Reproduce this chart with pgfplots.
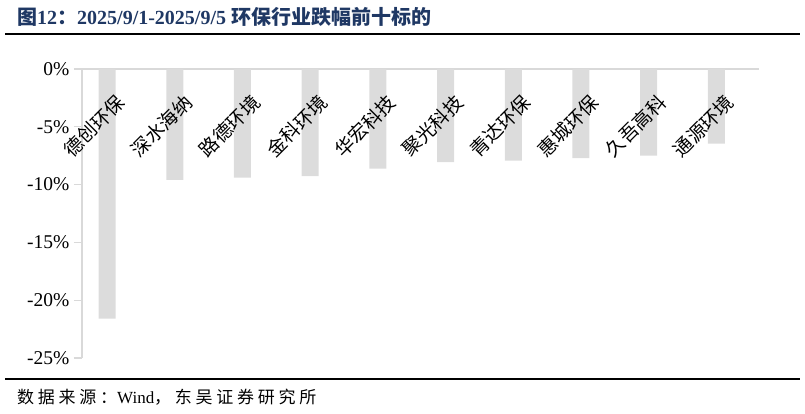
\documentclass[border=0pt]{standalone}
\usepackage{pgfplots}
\pgfplotsset{compat=1.18}
\usepackage{fontspec}
\setmainfont{Liberation Serif}
\newfontfamily\cjk{Noto Sans CJK SC}
\definecolor{bargray}{HTML}{DCDCDC}
\definecolor{axgray}{HTML}{D9D9D9}
\definecolor{titleblue}{HTML}{1F3864}

\begin{document}
\begin{tikzpicture}
\useasboundingbox (0pt,0pt) rectangle (805pt,-413pt);
% title and rules
\node[anchor=base west, text=titleblue, inner sep=0,
      font=\fontsize{20}{20}\selectfont\bfseries] at (17pt,-24pt)
  {{\cjk 图}12{\cjk ：}2025/9/1-2025/9/5 {\cjk 环保行业跌幅前十标的}};
\draw[line width=2.5pt] (5pt,-34pt) -- (800pt,-34pt);
\draw[line width=2.5pt] (5pt,-379pt) -- (800pt,-379pt);
\node[anchor=base west, inner sep=0, font=\fontsize{17}{17}\selectfont] at (17pt,-403pt)
  {{\cjk\addfontfeature{LetterSpace=22}数据来源：}Wind{\cjk\addfontfeature{LetterSpace=22}，东吴证券研究所}};

\begin{axis}[
    at={(82pt,-69pt)}, anchor=north west,
    scale only axis, width=677pt, height=289pt,
    xmin=-0.37, xmax=9.63, ymin=-25, ymax=0,
    axis x line*=top, axis y line*=left,
    axis line style={-, draw=axgray, line width=1.3pt},
    xtick=\empty,
    ytick={-25,-20,-15,-10,-5,0},
    yticklabels={-25\%,-20\%,-15\%,-10\%,-5\%,0\%},
    tick align=outside, major tick length=8pt,
    tick style={draw=axgray, line width=1.3pt},
    yticklabel style={font=\fontsize{19.5}{19.5}\selectfont, xshift=-1pt},
    clip=false,
  ]
  % weekly decline, %
  \addplot[ybar, bar width=17pt, fill=bargray, draw=none]
    coordinates {
      (0,-21.6)
      (1,-9.6)
      (2,-9.4)
      (3,-9.26)
      (4,-8.62)
      (5,-8.05)
      (6,-7.93)
      (7,-7.7)
      (8,-7.5)
      (9,-6.46)
    };
  \tikzset{lab/.style={rotate=45, anchor=east, inner sep=0,
      font=\cjk\fontsize{19}{19}\selectfont}}
  \node[lab] at (axis cs:0.207,-2.6) {德创环保};
  \node[lab] at (axis cs:1.207,-2.6) {深水海纳};
  \node[lab] at (axis cs:2.207,-2.6) {路德环境};
  \node[lab] at (axis cs:3.207,-2.6) {金科环境};
  \node[lab] at (axis cs:4.207,-2.6) {华宏科技};
  \node[lab] at (axis cs:5.207,-2.6) {聚光科技};
  \node[lab] at (axis cs:6.207,-2.6) {青达环保};
  \node[lab] at (axis cs:7.207,-2.6) {惠城环保};
  \node[lab] at (axis cs:8.207,-2.6) {久吾高科};
  \node[lab] at (axis cs:9.207,-2.6) {通源环境};
\end{axis}
\end{tikzpicture}
\end{document}
